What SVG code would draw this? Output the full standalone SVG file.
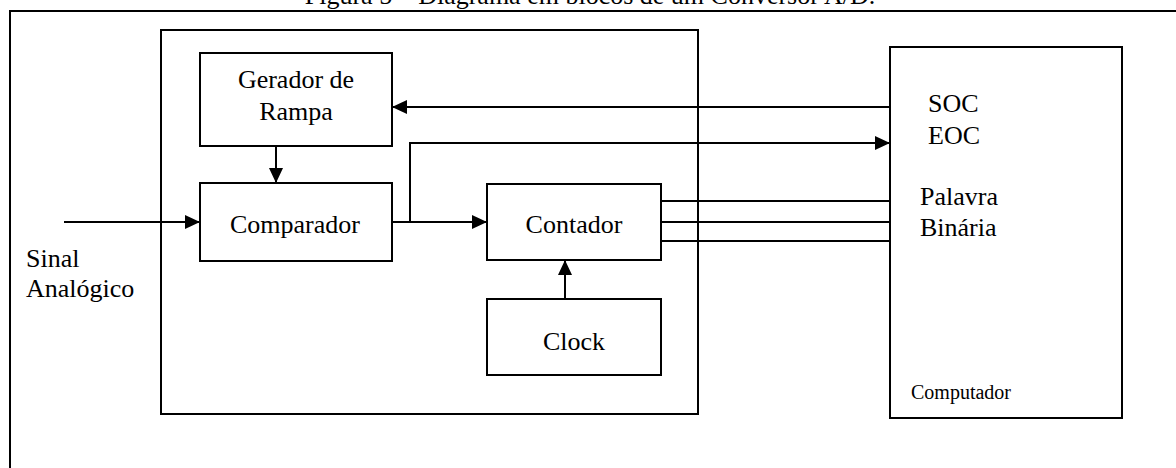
<svg xmlns="http://www.w3.org/2000/svg" width="1176" height="468" viewBox="0 0 1176 468">
  <style>
    .box { fill: #ffffff; stroke: #000000; stroke-width: 2; }
    .frame { fill: none; stroke: #000000; stroke-width: 2; }
    .wire { fill: none; stroke: #000000; stroke-width: 2; }
    text { font-family: "Liberation Serif", "Times New Roman", serif; font-size: 26px; fill: #000000; }
    .mid { text-anchor: middle; }
    .small { font-size: 20px; }
  </style>
  <defs>
    <marker id="arrow" markerUnits="userSpaceOnUse" markerWidth="15" markerHeight="14" refX="15" refY="7" orient="auto">
      <path d="M0,0 L15,7 L0,14 z" fill="#000000"/>
    </marker>
  </defs>

  <rect width="1176" height="468" fill="#ffffff"/>

  <!-- caption, clipped at the top edge -->
  <text id="caption" x="590" y="4" class="mid">Figura 5 – Diagrama em blocos de um Conversor A/D.</text>

  <!-- outer page frame running off the right and bottom edges -->
  <rect id="page-frame" class="frame" x="10" y="11" width="1220" height="520"/>

  <!-- converter enclosure -->
  <g id="converter">
    <rect class="frame" x="161" y="30" width="537" height="384"/>
  </g>

  <g id="gerador">
    <rect class="box" x="200" y="53" width="192" height="93"/>
    <text x="296" y="88" class="mid">Gerador de</text>
    <text x="296" y="120" class="mid">Rampa</text>
  </g>

  <g id="comparador">
    <rect class="box" x="200" y="183" width="192" height="78"/>
    <text x="295" y="233" class="mid">Comparador</text>
  </g>

  <g id="contador">
    <rect class="box" x="487" y="184" width="174" height="76"/>
    <text x="574" y="233" class="mid">Contador</text>
  </g>

  <g id="clock">
    <rect class="box" x="487" y="299" width="174" height="76"/>
    <text x="574" y="350" class="mid">Clock</text>
  </g>

  <g id="computador">
    <rect class="box" x="890" y="47" width="232" height="371"/>
    <text x="928" y="112">SOC</text>
    <text x="928" y="144">EOC</text>
    <text x="920" y="205">Palavra</text>
    <text x="920" y="236">Binária</text>
    <text x="911" y="399" class="small">Computador</text>
  </g>

  <g id="sinal">
    <text x="26" y="267">Sinal</text>
    <text x="26" y="297">Analógico</text>
  </g>

  <g id="connectors">
    <path class="wire" d="M64,222 H200" marker-end="url(#arrow)"/>
    <path class="wire" d="M276,146 V183" marker-end="url(#arrow)"/>
    <path class="wire" d="M392,222 H487" marker-end="url(#arrow)"/>
    <path class="wire" d="M410,222 V143 H890" marker-end="url(#arrow)"/>
    <path class="wire" d="M890,107 H392" marker-end="url(#arrow)"/>
    <path class="wire" d="M565,299 V260" marker-end="url(#arrow)"/>
    <path class="wire" d="M661,201 H890"/>
    <path class="wire" d="M661,222 H890"/>
    <path class="wire" d="M661,241 H890"/>
  </g>
</svg>
